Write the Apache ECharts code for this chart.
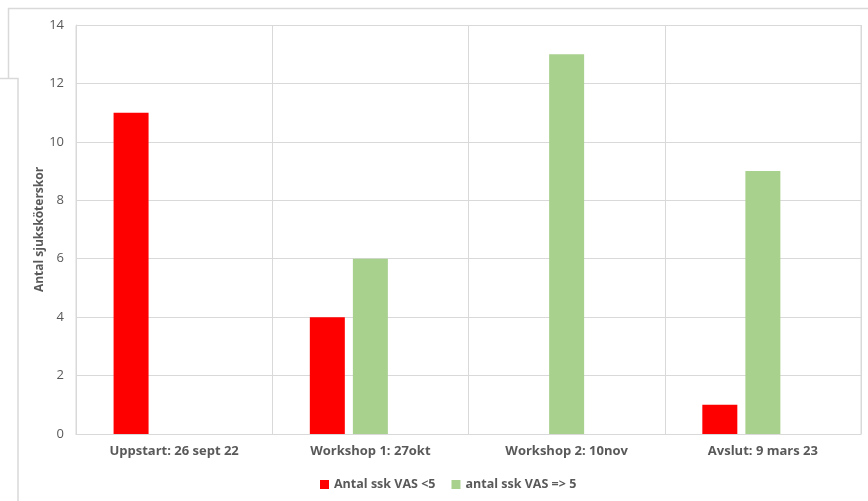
<!DOCTYPE html>
<html>
<head>
<meta charset="utf-8">
<script src="https://cdn.jsdelivr.net/npm/echarts@6/dist/echarts.min.js"></script>
<style>
html,body{margin:0;padding:0;background:#fff;}
#c{width:868px;height:501px;}
</style>
</head>
<body>
<div id="c"></div>
<script>
var categories = ['Uppstart: 26 sept 22', 'Workshop 1: 27okt', 'Workshop 2: 10nov', 'Avslut: 9 mars 23'];
var seriesNames = ['Antal ssk VAS <5', 'antal ssk VAS => 5'];
var lowVAS = [11, 4, 0, 1];
var highVAS = [0, 6, 13, 9];
var emptySeries = [null, null, null, null];
var yTicks = [0, 2, 4, 6, 8, 10, 12, 14];

var chart = echarts.init(document.getElementById('c'), null, {renderer: 'canvas'});
var font = 'Open Sans';
chart.setOption({
  animation: false,
  backgroundColor: '#fff',
  graphic: [
    {type: 'rect', z: 0, shape: {x: 8.5, y: 8.5, width: 900, height: 600}, style: {fill: '#fff', stroke: '#d9d9d9', lineWidth: 1.5}},
    {type: 'rect', z: 1, shape: {x: -5, y: 78.5, width: 23, height: 600}, style: {fill: '#fff', stroke: '#d9d9d9', lineWidth: 1.5}},
    {type: 'rect', z: 1, shape: {x: 76, y: 25.5, width: 785, height: 409}, style: {fill: 'none', stroke: '#d9d9d9', lineWidth: 1}}
  ],
  grid: {left: 76, right: 7, top: 25, bottom: 67, containLabel: false},
  legend: {
    data: seriesNames,
    bottom: 5,
    left: 315,
    itemWidth: 9,
    itemHeight: 9,
    itemGap: 16,
    icon: 'rect',
    textStyle: {color: '#595959', fontFamily: font, fontWeight: 'bold', fontSize: 12.5}
  },
  xAxis: {
    type: 'category',
    data: categories,
    axisLine: {lineStyle: {color: '#d9d9d9'}},
    axisTick: {show: false},
    splitLine: {show: true, lineStyle: {color: '#d9d9d9'}},
    axisLabel: {color: '#595959', fontFamily: font, fontWeight: 'bold', fontSize: 13, margin: 11, interval: 0}
  },
  yAxis: {
    type: 'value',
    min: yTicks[0],
    max: yTicks[yTicks.length - 1],
    interval: 2,
    name: 'Antal sjuksköterskor',
    nameLocation: 'middle',
    nameGap: 30,
    nameMoveOverlap: false,
    nameTextStyle: {color: '#595959', fontFamily: font, fontWeight: 'bold', fontSize: 12},
    axisLine: {show: true, lineStyle: {color: '#d9d9d9'}},
    axisTick: {show: false},
    splitLine: {lineStyle: {color: '#d9d9d9'}},
    axisLabel: {color: '#595959', fontFamily: font, fontSize: 13, margin: 12}
  },
  series: [
    {name: seriesNames[0], type: 'bar', data: lowVAS, barWidth: 35, barGap: '23%', itemStyle: {color: '#ff0000'}},
    {name: seriesNames[1], type: 'bar', data: highVAS, barWidth: 35, barGap: '23%', itemStyle: {color: '#a9d18e'}},
    {name: 'tom', type: 'bar', data: emptySeries, barWidth: 35, barGap: '23%', itemStyle: {color: '#a5a5a5'}}
  ]
});
</script>
</body>
</html>
